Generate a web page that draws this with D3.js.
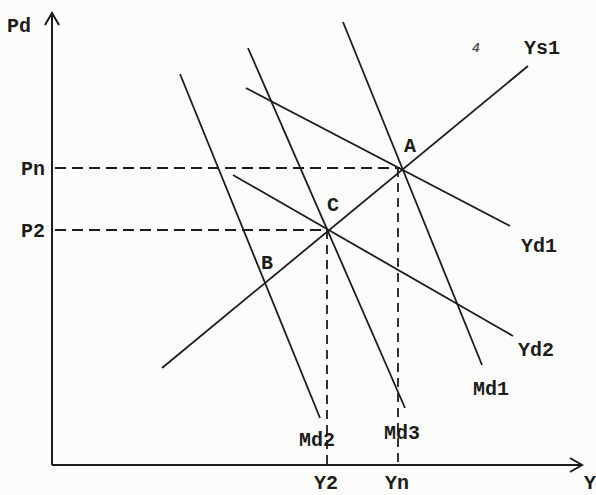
<!DOCTYPE html>
<html><head><meta charset="utf-8">
<script src="https://cdn.jsdelivr.net/npm/d3@7/dist/d3.min.js"></script>
<style>
html,body{margin:0;padding:0;background:#fcfcfa;}
svg{display:block;}
text{font-family:"Liberation Mono","DejaVu Sans Mono",monospace;font-weight:bold;fill:#1c1c1c;}
</style></head><body>
<svg id="chart" width="596" height="495"></svg>
<script>
// Curves (schematic): endpoints in model units
const curveNames = ["Ys1","Yd1","Yd2","Md1","Md2","Md3"];
const curveX1 = [110, 194, 181, 291, 128, 196];
const curveY1 = [97, 377, 290, 443, 391, 417];
const curveX2 = [476, 458, 461, 430, 268, 353];
const curveY2 = [399, 239, 129, 100, 47, 57];
// Equilibrium points
const pointNames = ["A","C","B"];
const pointX = [348, 275, 210];
const pointY = [297, 235, 182];
// Reference levels (dashed guides)
const priceLabels = ["Pn","P2"];
const priceValues = [297, 235];
const outputLabels = ["Yn","Y2"];
const outputValues = [346, 275];

const svg = d3.select("#chart");
const ox = 52, oy = 465;
const x = d3.scaleLinear().domain([0, 530]).range([ox, ox + 530]);
const y = d3.scaleLinear().domain([0, 450]).range([oy, oy - 450]);
const ink = "#1c1c1c";
const fs = 20;

// dashed guides
priceValues.forEach((p, i) => {
  const xEnd = i === 0 ? pointX[0] : pointX[1];
  svg.append("line").attr("x1", x(0) + 3).attr("x2", x(xEnd)).attr("y1", y(p)).attr("y2", y(p))
    .attr("stroke", ink).attr("stroke-width", 1.8).attr("stroke-dasharray", "11,6");
  svg.append("text").attr("x", x(0) - 7).attr("y", y(p)).attr("dy", "0.35em")
    .attr("text-anchor", "end").attr("font-size", fs).text(priceLabels[i]);
});
outputValues.forEach((v, i) => {
  const yTop = i === 0 ? pointY[0] : pointY[1];
  svg.append("line").attr("x1", x(v)).attr("x2", x(v)).attr("y1", y(yTop)).attr("y2", y(0))
    .attr("stroke", ink).attr("stroke-width", 1.8).attr("stroke-dasharray", "9,6");
  svg.append("text").attr("x", x(v) - 1).attr("y", 489)
    .attr("text-anchor", "middle").attr("font-size", fs).text(outputLabels[i]);
});

// curves
curveNames.forEach((n, i) => {
  svg.append("line").attr("x1", x(curveX1[i])).attr("y1", y(curveY1[i]))
    .attr("x2", x(curveX2[i])).attr("y2", y(curveY2[i]))
    .attr("stroke", ink).attr("stroke-width", 1.8);
});

// curve labels
const curveLabelPos = {
  "Ys1": [542, 47], "Yd1": [539, 245], "Yd2": [536, 349],
  "Md1": [491, 388], "Md2": [317, 439], "Md3": [402, 432]
};
curveNames.forEach(n => {
  const p = curveLabelPos[n];
  svg.append("text").attr("x", p[0]).attr("y", p[1]).attr("dy", "0.35em")
    .attr("text-anchor", "middle").attr("font-size", fs).text(n);
});

// point labels
const pointLabelOffset = [[10, -23], [6, -26], [5, -21]];
pointNames.forEach((n, i) => {
  svg.append("text").attr("x", x(pointX[i]) + pointLabelOffset[i][0])
    .attr("y", y(pointY[i]) + pointLabelOffset[i][1]).attr("dy", "0.35em")
    .attr("text-anchor", "middle").attr("font-size", fs).text(n);
});

// stray mark
svg.append("text").attr("x", 476).attr("y", 47).attr("dy", "0.35em")
  .attr("text-anchor", "middle").attr("font-size", 13).attr("font-weight", "normal")
  .attr("font-style", "italic").style("fill", "#555").text("4");

// axes
svg.append("line").attr("x1", x(0)).attr("y1", y(0)).attr("x2", x(0)).attr("y2", 13)
  .attr("stroke", ink).attr("stroke-width", 2);
svg.append("line").attr("x1", x(0)).attr("y1", y(0)).attr("x2", 582).attr("y2", y(0))
  .attr("stroke", ink).attr("stroke-width", 2);
svg.append("path").attr("d", `M${x(0)-7},${25} L${x(0)},${13} L${x(0)+7},${25}`)
  .attr("fill", "none").attr("stroke", ink).attr("stroke-width", 2);
svg.append("path").attr("d", `M570,${y(0)-7} L582,${y(0)} L570,${y(0)+7}`)
  .attr("fill", "none").attr("stroke", ink).attr("stroke-width", 2);
svg.append("text").attr("x", 19).attr("y", 25).attr("dy", "0.35em")
  .attr("text-anchor", "middle").attr("font-size", fs).text("Pd");
svg.append("text").attr("x", 590).attr("y", 489)
  .attr("text-anchor", "middle").attr("font-size", fs).text("Y");
</script>
</body></html>
